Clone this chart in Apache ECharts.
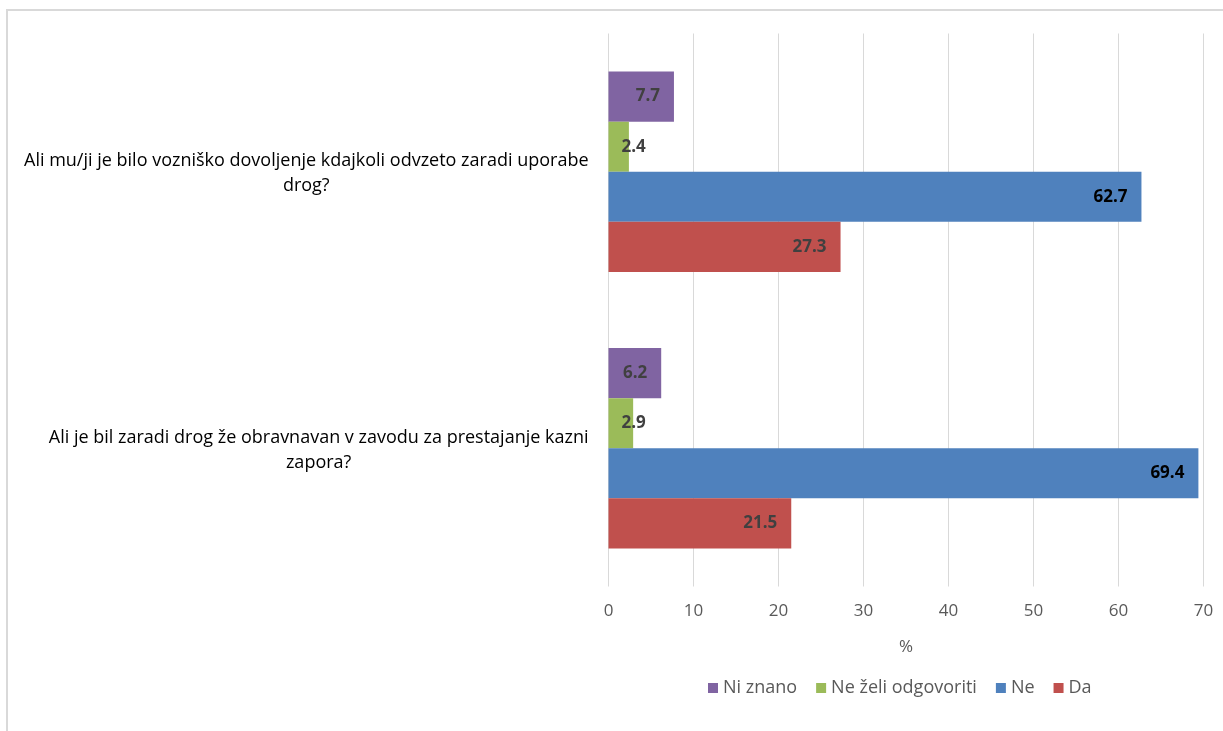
<!DOCTYPE html>
<html>
<head>
<meta charset="utf-8">
<script src="https://cdn.jsdelivr.net/npm/echarts@6/dist/echarts.min.js"></script>
<style>
html,body{margin:0;padding:0;background:#fff;}
#chart{width:1223px;height:731px;}
</style>
</head>
<body>
<div id="chart"></div>
<script>
const categories = [
  "Ali mu/ji je bilo vozniško dovoljenje kdajkoli odvzeto zaradi uporabe\ndrog?",
  "Ali je bil zaradi drog že obravnavan v zavodu za prestajanje kazni\nzapora?"
];
const seriesNames = ["Ni znano", "Ne želi odgovoriti", "Ne", "Da"];
const niZnano = [7.7, 6.2];
const neZeli = [2.4, 2.9];
const ne = [62.7, 69.4];
const da = [27.3, 21.5];
const xTicks = [0, 10, 20, 30, 40, 50, 60, 70];

const FONT = "Open Sans";
const colors = ["#8064a2", "#9bbb59", "#4f81bd", "#c0504d"];
const values = [niZnano, neZeli, ne, da];

const labelCfg = [
  {position: "insideRight", distance: 14, color: "#404040"},
  {position: "insideLeft", distance: 13, color: "#404040"},
  {position: "insideRight", distance: 14, color: "#000000"},
  {position: "insideRight", distance: 14, color: "#404040"}
];

const chart = echarts.init(document.getElementById("chart"));
chart.setOption({
  animation: false,
  textStyle: {fontFamily: FONT},
  graphic: [{
    type: "rect",
    shape: {x: 7, y: 10, width: 1400, height: 900},
    style: {fill: "none", stroke: "#d9d9d9", lineWidth: 2},
    silent: true, z: -10
  }],
  grid: {left: 608.5, right: 19.5, top: 33.5, height: 553, containLabel: false},
  legend: {
    data: seriesNames,
    bottom: 29,
    left: 703,
    icon: "rect",
    itemWidth: 10,
    itemHeight: 10,
    itemGap: 19,
    textStyle: {fontFamily: FONT, fontSize: 18, color: "#595959"}
  },
  xAxis: {
    type: "value",
    min: xTicks[0],
    max: xTicks[xTicks.length - 1],
    interval: 10,
    name: "%",
    nameLocation: "middle",
    nameGap: 52,
    nameTextStyle: {fontFamily: FONT, fontSize: 17, color: "#595959"},
    axisLine: {show: false},
    axisTick: {show: false},
    axisLabel: {fontFamily: FONT, fontSize: 17, color: "#595959", margin: 16},
    splitLine: {show: true, lineStyle: {color: "#d9d9d9", width: 1}}
  },
  yAxis: {
    type: "category",
    inverse: true,
    data: categories,
    axisLine: {show: false},
    axisTick: {show: false},
    axisLabel: {
      margin: 20,
      lineHeight: 25,
      fontFamily: FONT,
      fontSize: 18,
      color: "#000000",
      formatter: function (v) {
        return v.split("\n").map(function (l) { return "{c|" + l + "}"; }).join("\n");
      },
      rich: {c: {align: "center", fontFamily: FONT, fontSize: 18, color: "#000000", lineHeight: 25, padding: [4, 0, 0, 0]}}
    }
  },
  series: seriesNames.map(function (name, i) {
    return {
      name: name,
      type: "bar",
      data: values[i],
      barGap: "0%",
      barCategoryGap: "27.5%",
      itemStyle: {color: colors[i]},
      label: {
        show: true,
        position: labelCfg[i].position,
        distance: labelCfg[i].distance,
        fontFamily: FONT,
        fontSize: 17,
        fontWeight: "bold",
        color: labelCfg[i].color,
        formatter: function (p) { return p.value.toFixed(1); }
      }
    };
  })
});
</script>
</body>
</html>
